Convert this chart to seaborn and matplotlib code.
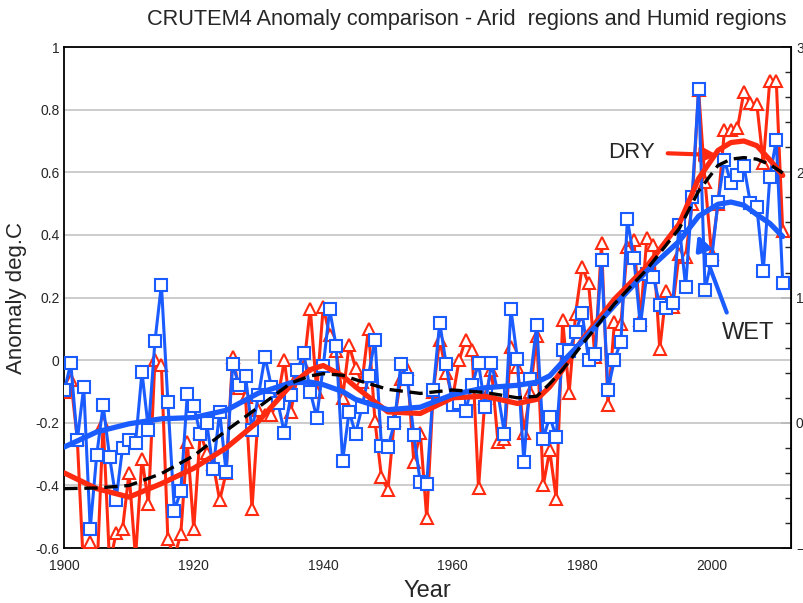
import matplotlib
matplotlib.use("Agg")
import matplotlib.pyplot as plt
import seaborn as sns
from matplotlib.ticker import MultipleLocator

# yearly anomalies (deg C)
years = list(range(1900, 2012))

wet = [-0.096, -0.01, -0.256, -0.086, -0.538, -0.304, -0.144, -0.309, -0.445, -0.279,
       -0.254, -0.264, -0.038, -0.222, 0.060, 0.241, -0.133, -0.480, -0.418, -0.109,
       -0.145, -0.236, -0.200, -0.346, -0.165, -0.357, -0.013, -0.080, -0.051, -0.224,
       -0.112, 0.011, -0.085, -0.136, -0.232, -0.112, -0.030, 0.023, -0.101, -0.183,
       -0.020, 0.162, 0.045, -0.322, -0.164, -0.234, -0.150, -0.049, 0.066, -0.274,
       -0.276, -0.202, -0.011, -0.060, -0.238, -0.390, -0.394, -0.096, 0.120, -0.012,
       -0.143, -0.136, -0.161, -0.080, -0.010, -0.149, -0.009, -0.106, -0.234, 0.163,
       0.005, -0.324, -0.059, 0.113, -0.250, -0.180, -0.245, 0.034, 0.030, 0.090,
       0.152, 0.002, 0.021, 0.319, -0.094, 0.002, 0.059, 0.450, 0.325, 0.111,
       0.274, 0.267, 0.176, 0.166, 0.182, 0.431, 0.235, 0.522, 0.866, 0.224,
       0.320, 0.506, 0.639, 0.565, 0.591, 0.620, 0.502, 0.489, 0.286, 0.584,
       0.703, 0.247]

dry = [-0.10, -0.064, -0.25, -0.68, -0.58, -0.70, -0.20, -0.65, -0.553, -0.538,
       -0.36, -0.63, -0.314, -0.458, 0.00, -0.016, -0.572, -0.63, -0.554, -0.26,
       -0.54, -0.23, -0.296, -0.33, -0.447, -0.36, 0.011, -0.09, -0.117, -0.474,
       -0.16, -0.176, -0.176, -0.12, 0.00, -0.165, -0.05, -0.02, 0.165, -0.10,
       0.17, 0.08, 0.03, -0.12, 0.048, -0.024, -0.07, 0.101, -0.195, -0.373,
       -0.414, -0.19, -0.06, -0.028, -0.325, -0.231, -0.505, -0.10, 0.066, -0.04,
       -0.12, 0.00, 0.066, 0.032, -0.408, -0.12, -0.03, -0.261, -0.25, 0.043,
       -0.021, -0.232, -0.10, 0.078, -0.399, -0.288, -0.442, 0.128, -0.105, 0.149,
       0.298, 0.245, 0.010, 0.373, -0.144, 0.122, 0.117, 0.362, 0.383, 0.128,
       0.389, 0.367, 0.035, 0.22, 0.17, 0.34, 0.33, 0.50, 0.862, 0.57,
       0.34, 0.50, 0.735, 0.735, 0.74, 0.857, 0.82, 0.817, 0.63, 0.893,
       0.893, 0.412]

# smoothed curves, read at knots
smooth_years = [1900, 1905, 1910, 1915, 1920, 1925, 1930, 1935, 1938, 1940, 1943,
                1945, 1950, 1955, 1960, 1965, 1970, 1973, 1975, 1977, 1980, 1985,
                1990, 1995, 1998, 2001, 2003, 2005, 2007, 2009, 2011]
dry_smooth = [-0.36, -0.41, -0.437, -0.394, -0.345, -0.28, -0.195, -0.08, -0.03,
              -0.017, -0.05, -0.085, -0.165, -0.17, -0.12, -0.115, -0.138, -0.125,
              -0.085, -0.03, 0.065, 0.195, 0.30, 0.435, 0.58, 0.67, 0.695, 0.70,
              0.685, 0.64, 0.59]
wet_smooth = [-0.277, -0.229, -0.203, -0.187, -0.183, -0.16, -0.105, -0.072, -0.07,
              -0.078, -0.10, -0.125, -0.158, -0.15, -0.11, -0.088, -0.08, -0.07,
              -0.05, -0.005, 0.06, 0.175, 0.285, 0.38, 0.46, 0.498, 0.505, 0.495,
              0.465, 0.437, 0.395]
all_smooth = [-0.41, -0.408, -0.40, -0.362, -0.305, -0.225, -0.15, -0.073, -0.05,
              -0.043, -0.048, -0.062, -0.093, -0.106, -0.095, -0.103, -0.12, -0.115,
              -0.075, -0.03, 0.05, 0.18, 0.29, 0.42, 0.54, 0.622, 0.642, 0.647,
              0.642, 0.625, 0.598]

RED = "#ff2a10"
BLUE = "#1a5cff"

sns.set_style("white")
plt.rcParams["font.family"] = ["Liberation Sans", "DejaVu Sans"]

fig = plt.figure(figsize=(8.04, 6.03), dpi=100)
ax = fig.add_axes([0.080, 0.091, 0.904, 0.831])

sns.lineplot(x=years, y=dry, ax=ax, color=RED, lw=2.2, marker="^", markersize=9,
             markerfacecolor="white", markeredgecolor=RED, markeredgewidth=1.5, zorder=3)
sns.lineplot(x=years, y=wet, ax=ax, color=BLUE, lw=2.2, marker="s", markersize=8,
             markerfacecolor="white", markeredgecolor=BLUE, markeredgewidth=1.5, zorder=4)
sns.lineplot(x=smooth_years, y=dry_smooth, ax=ax, color=RED, lw=3.8, zorder=5)
sns.lineplot(x=smooth_years, y=all_smooth, ax=ax, color="black", lw=2.4,
             linestyle=(0, (4, 2)), zorder=6)
sns.lineplot(x=smooth_years, y=wet_smooth, ax=ax, color=BLUE, lw=3.8, zorder=5)

ax.set_xlim(1900, 2012.3)
ax.set_ylim(-0.6, 1.0)
ax.xaxis.set_major_locator(MultipleLocator(20))
ax.xaxis.set_minor_locator(MultipleLocator(5))
ax.yaxis.set_major_locator(MultipleLocator(0.2))
ax.yaxis.set_minor_locator(MultipleLocator(0.05))
ax.set_yticklabels([f"{v:g}" for v in ax.get_yticks()])
ax.tick_params(which="major", direction="in", length=7, width=1.2, labelsize=10,
               top=False, right=False)
ax.tick_params(axis="x", which="major", pad=8)
ax.tick_params(which="minor", direction="in", length=4, width=1, top=False, right=False)
ax.yaxis.grid(True, which="major", color="#c8c8c8", lw=1.3)
ax.set_axisbelow(True)
for s in ax.spines.values():
    s.set_color("black")
    s.set_linewidth(1.3)

sec = ax.secondary_yaxis("right", functions=(lambda v: (v + 0.2) / 0.4,
                                             lambda r: r * 0.4 - 0.2))
sec.yaxis.set_major_locator(MultipleLocator(1))
sec.yaxis.set_minor_locator(MultipleLocator(0.2))
sec.tick_params(which="major", direction="in", length=7, width=1.2, labelsize=10)
sec.tick_params(which="minor", direction="in", length=4, width=1)

ax.set_xlabel("Year", fontsize=17, labelpad=5)
ax.set_ylabel("Anomaly deg.C", fontsize=16, labelpad=6)
fig.text(0.978, 0.967, "CRUTEM4 Anomaly comparison - Arid  regions and Humid regions",
         ha="right", va="center", fontsize=15.7)

# labels with arrows
ax.annotate("", xy=(2001.3, 0.655), xytext=(1992.8, 0.661),
            arrowprops=dict(arrowstyle="-|>", color=RED, lw=3, mutation_scale=22))
ax.text(1991.3, 0.664, "DRY", ha="right", va="center", fontsize=16)
ax.annotate("", xy=(1997.7, 0.409), xytext=(2002.5, 0.144),
            arrowprops=dict(arrowstyle="-|>", color=BLUE, lw=3, mutation_scale=22))
ax.text(2005.6, 0.086, "WET", ha="center", va="center", fontsize=17)

fig.savefig("out.png", dpi=100)
